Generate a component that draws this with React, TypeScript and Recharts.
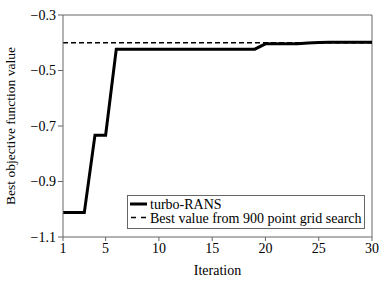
import React from 'react';
import { LineChart, Line, XAxis, YAxis, ReferenceLine, Label } from 'recharts';

const iterations = [1,2,3,4,5,6,7,8,9,10,11,12,13,14,15,16,17,18,19,20,21,22,23,24,25,26,27,28,29,30];
const turboRans = [-1.012,-1.012,-1.012,-0.733,-0.733,-0.423,-0.423,-0.423,-0.423,-0.423,-0.423,-0.423,-0.423,-0.423,-0.423,-0.423,-0.423,-0.423,-0.423,-0.404,-0.404,-0.404,-0.404,-0.401,-0.399,-0.398,-0.398,-0.398,-0.398,-0.398];
const gridBest = -0.4;
const xTicks = [1,5,10,15,20,25,30];
const yTicks = [-1.1,-0.9,-0.7,-0.5,-0.3];
const seriesNames = ['turbo-RANS', 'Best value from 900 point grid search'];

const data = iterations.map((it, i) => ({ it, turbo: turboRans[i], grid: gridBest }));

const FONT = '"Liberation Serif", "Times New Roman", serif';
const fmt = (v: number) => v.toFixed(1).replace('-', '\u2212');

const LegendBox = () => (
  <div style={{ position: 'absolute', left: 127, top: 195, border: '1px solid #666', background: '#fff', width: 236, height: 32, boxSizing: 'content-box' }}>
    <svg width={236} height={32} style={{ display: 'block' }}>
      <line x1={2} x2={19} y1={8} y2={8} stroke="#000" strokeWidth={3} />
      <text x={22} y={13} fontFamily={FONT} fontSize={14}>{seriesNames[0]}</text>
      <line x1={3} x2={19} y1={21.5} y2={21.5} stroke="#000" strokeWidth={1.3} strokeDasharray="5 5" />
      <text x={22} y={26.5} fontFamily={FONT} fontSize={14}>{seriesNames[1]}</text>
    </svg>
  </div>
);

export default function App() {
  return (
    <div style={{ position: 'absolute', left: 0, top: 0, width: 389, height: 287, background: '#fff' }}>
      <LineChart width={389} height={287} data={data} margin={{ top: 15, right: 17, bottom: 20, left: 0 }}>
        <XAxis dataKey="it" type="number" domain={[1, 30]} ticks={xTicks} interval={0}
          stroke="#666" tickSize={4} height={30}
          tick={{ fill: '#000', fontFamily: FONT, fontSize: 14 }}>
          <Label value="Iteration" position="bottom" offset={-2} style={{ fill: '#000', fontFamily: FONT, fontSize: 14 }} />
        </XAxis>
        <YAxis type="number" domain={[-1.1, -0.3]} ticks={yTicks} interval={0} width={63}
          stroke="#666" tickSize={5} tickFormatter={fmt}
          tick={{ fill: '#000', fontFamily: FONT, fontSize: 14 }}>
          <Label value="Best objective function value" angle={-90} position="insideLeft" offset={10}
            style={{ fill: '#000', fontFamily: FONT, fontSize: 13.5, textAnchor: 'middle' }} />
        </YAxis>
        <ReferenceLine y={-0.3} stroke="#666" />
        <ReferenceLine x={30} stroke="#666" />
        <Line dataKey="grid" name={seriesNames[1]} stroke="#000" strokeWidth={1.3} strokeDasharray="5 3" dot={false} isAnimationActive={false} />
        <Line dataKey="turbo" name={seriesNames[0]} stroke="#000" strokeWidth={3} strokeLinejoin="miter" dot={false} isAnimationActive={false} />
      </LineChart>
      <LegendBox />
    </div>
  );
}
